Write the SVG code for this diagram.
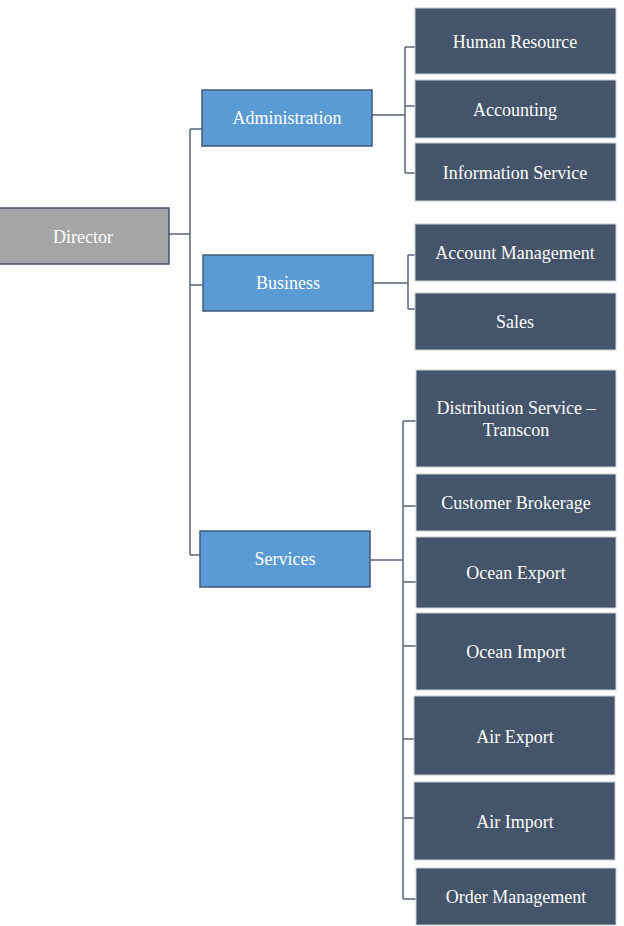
<svg xmlns="http://www.w3.org/2000/svg" width="624" height="926" viewBox="0 0 624 926">
<style>
.t{font-family:"Liberation Serif","Times New Roman",serif;font-size:18px;fill:#ffffff;text-anchor:middle;dominant-baseline:central}
.dir{fill:#a5a5a5;stroke:#44546a;stroke-width:1.5}
.dept{fill:#5b9bd5;stroke:#41597a;stroke-width:1.5}
.unit{fill:#44546a;stroke:#c8ced6;stroke-width:1}
.c{fill:none;stroke:#5a6478;stroke-width:1.5}
</style>
<rect width="624" height="926" fill="#ffffff"/>
<g id="connectors">
<path class="c" d="M169,234 H190 M190,129 V555 M190,129 H202 M190,285 H203 M190,555 H200"/>
<path class="c" d="M372,115 H405 M405,47 V173 M405,47 H415 M405,106 H415 M405,173 H415"/>
<path class="c" d="M373,283 H408 M408,255 V309 M408,255 H415 M408,309 H415"/>
<path class="c" d="M370,560 H403 M403,421 V899 M403,421 H416 M403,506 H416 M403,582 H416 M403,646 H416 M403,739 H414 M403,818 H414 M403,899 H416"/>
</g>
<g id="director"><rect class="dir" x="-2" y="208" width="171" height="56"/><text class="t" x="83" y="237">Director</text></g>
<g id="administration"><rect class="dept" x="202" y="90" width="170" height="56"/><text class="t" x="287" y="118">Administration</text></g>
<g id="business"><rect class="dept" x="203" y="255" width="170" height="56"/><text class="t" x="288" y="283">Business</text></g>
<g id="services"><rect class="dept" x="200" y="531" width="170" height="56"/><text class="t" x="285" y="559">Services</text></g>
<g id="human-resource"><rect class="unit" x="415" y="8" width="201" height="66"/><text class="t" x="515" y="42">Human Resource</text></g>
<g id="accounting"><rect class="unit" x="415" y="80" width="201" height="58"/><text class="t" x="515" y="110">Accounting</text></g>
<g id="information-service"><rect class="unit" x="415" y="143" width="201" height="58"/><text class="t" x="515" y="173">Information Service</text></g>
<g id="account-management"><rect class="unit" x="415" y="224" width="201" height="57"/><text class="t" x="515" y="253">Account Management</text></g>
<g id="sales"><rect class="unit" x="415" y="293" width="201" height="57"/><text class="t" x="515" y="322">Sales</text></g>
<g id="distribution-service"><rect class="unit" x="416" y="370" width="200" height="97"/><text class="t" x="516" y="408">Distribution Service –</text><text class="t" x="516" y="430">Transcon</text></g>
<g id="customer-brokerage"><rect class="unit" x="416" y="474" width="200" height="57"/><text class="t" x="516" y="503">Customer Brokerage</text></g>
<g id="ocean-export"><rect class="unit" x="416" y="537" width="200" height="71"/><text class="t" x="516" y="573">Ocean Export</text></g>
<g id="ocean-import"><rect class="unit" x="416" y="613" width="200" height="77"/><text class="t" x="516" y="652">Ocean Import</text></g>
<g id="air-export"><rect class="unit" x="414" y="696" width="201" height="79"/><text class="t" x="515" y="737">Air Export</text></g>
<g id="air-import"><rect class="unit" x="414" y="782" width="201" height="78"/><text class="t" x="515" y="822">Air Import</text></g>
<g id="order-management"><rect class="unit" x="416" y="868" width="200" height="57"/><text class="t" x="516" y="897">Order Management</text></g>
</svg>
